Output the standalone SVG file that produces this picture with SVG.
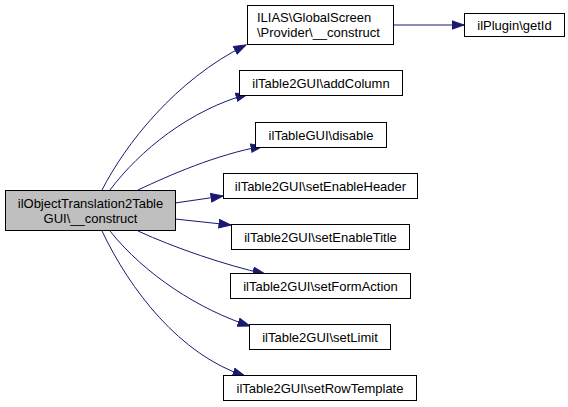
<svg xmlns="http://www.w3.org/2000/svg" width="568" height="407" viewBox="0 0 568 407">
<style>
.box{fill:#ffffff;stroke:#000000;stroke-width:1}
.main{fill:#bfbfbf;stroke:#000000;stroke-width:1}
text{font-family:"Liberation Sans",Arial,Helvetica,sans-serif;font-size:13px;fill:#000000}
.c{text-anchor:middle}
.edge{fill:none;stroke:#191970;stroke-width:1}
</style>
<defs>
<marker id="arr" markerUnits="userSpaceOnUse" markerWidth="14" markerHeight="11" refX="12.5" refY="5" orient="auto">
<path d="M0.5,0.8 L12.5,5 L0.5,9.2 z" fill="#191970" stroke="#191970" stroke-width="1"/>
</marker>
</defs>
<rect width="568" height="407" fill="#ffffff"/>
<g id="connectors">
<path class="edge" marker-end="url(#arr)" d="M102,190 C125,145 175,80 246,45"/>
<path class="edge" marker-end="url(#arr)" d="M110,190 C140,150 190,110 248,94"/>
<path class="edge" marker-end="url(#arr)" d="M138,190 C170,175 215,155 263,146"/>
<path class="edge" marker-end="url(#arr)" d="M175,203 L223,196"/>
<path class="edge" marker-end="url(#arr)" d="M175,219 L231,225"/>
<path class="edge" marker-end="url(#arr)" d="M138,231 C175,248 225,265 265,274"/>
<path class="edge" marker-end="url(#arr)" d="M110,231 C145,275 200,310 250,326"/>
<path class="edge" marker-end="url(#arr)" d="M102,231 C130,290 180,355 245,376"/>
<path class="edge" marker-end="url(#arr)" d="M393,25 L464,25"/>
</g>
<g id="node-main">
<rect class="main" x="5.5" y="190.5" width="170" height="40"/>
<text class="c" x="90.5" y="208">ilObjectTranslation2Table</text>
<text class="c" x="90.5" y="223">GUI\__construct</text>
</g>
<g id="node-ilias">
<rect class="box" x="247.5" y="5.5" width="146" height="39"/>
<text x="257" y="22">ILIAS\GlobalScreen</text>
<text x="257" y="37">\Provider\__construct</text>
</g>
<g id="node-plugin">
<rect class="box" x="464.5" y="13.5" width="100" height="23"/>
<text class="c" x="514.5" y="29.5">ilPlugin\getId</text>
</g>
<g id="node-addcolumn">
<rect class="box" x="239.5" y="70.5" width="163" height="25"/>
<text class="c" x="321" y="87.5">ilTable2GUI\addColumn</text>
</g>
<g id="node-disable">
<rect class="box" x="255.5" y="122.5" width="131" height="25"/>
<text class="c" x="321" y="139.5">ilTableGUI\disable</text>
</g>
<g id="node-setenableheader">
<rect class="box" x="223.5" y="173.5" width="194" height="25"/>
<text class="c" x="320.5" y="190.5">ilTable2GUI\setEnableHeader</text>
</g>
<g id="node-setenabletitle">
<rect class="box" x="231.5" y="224.5" width="178" height="25"/>
<text class="c" x="320.5" y="241.5">ilTable2GUI\setEnableTitle</text>
</g>
<g id="node-setformaction">
<rect class="box" x="230.5" y="273.5" width="180" height="25"/>
<text class="c" x="320.5" y="290.5">ilTable2GUI\setFormAction</text>
</g>
<g id="node-setlimit">
<rect class="box" x="249.5" y="324.5" width="141" height="25"/>
<text class="c" x="320" y="341.5">ilTable2GUI\setLimit</text>
</g>
<g id="node-setrowtemplate">
<rect class="box" x="223.5" y="375.5" width="193" height="25"/>
<text class="c" x="320" y="392.5">ilTable2GUI\setRowTemplate</text>
</g>
</svg>
